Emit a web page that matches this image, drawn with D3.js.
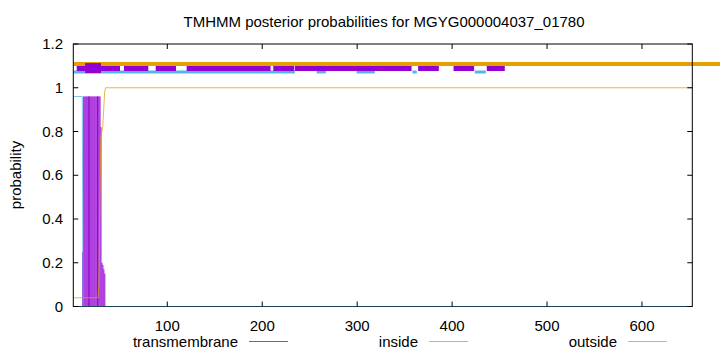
<html lang='eng'>
    <head>
        <title>TMHMM posterior probabilities</title>
        <script src="https://d3js.org/d3.v7.min.js" charset="utf-8"></script>
        <style>
          body { margin: 0; background: #fff; }
          text { font-family: "Liberation Sans", Arial, sans-serif; font-size: 15px; fill: #000; }
        </style>
    </head>
    <body>
        <script>
            // values (residue positions / probabilities)
            var seqLength = 653
            var xTicks = [100, 200, 300, 400, 500, 600]
            var yTicks = [0, 0.2, 0.4, 0.6, 0.8, 1, 1.2]

            // transmembrane posterior, one value per residue
            var tmResidues = [11, 12, 13, 14, 15, 16, 17, 18, 19, 20, 21, 22, 23, 24, 25, 26, 27, 28, 29, 30, 31, 32, 33, 34]
            var tmValues   = [0.25, 0.96, 0.96, 0.96, 0.96, 0.96, 0.96, 0.96, 0.96, 0.96, 0.96, 0.96, 0.96, 0.96, 0.96, 0.96, 0.96, 0.96, 0.96, 0.82, 0.2, 0.19, 0.17, 0.15]
            var tmDarkLines = [17.5, 26.7]

            // inside / outside curves as breakpoints
            var insidePos = [1, 10.5, 11.2, 653]
            var insideVal = [0.96, 0.96, 0, 0]
            var outsidePos = [1, 27, 28, 29, 30, 31, 32, 33, 34, 35, 653]
            var outsideVal = [0.04, 0.04, 0.1, 0.5, 0.78, 0.8, 0.82, 0.9, 0.98, 1.0, 1.0]

            // predicted topology band at the top
            var topOutside = [[1, 700]]
            var topTM = [[4.6, 50.2], [54.4, 80], [87.8, 109.2], [120.4, 208.8], [211.6, 233.7], [234.4, 357.3], [364.2, 386], [401.5, 423.2], [436.5, 455.5]]
            var topTMHelix = [[13.4, 30.2]]
            var topInside = [[1, 234.4], [257.3, 267.1], [299.4, 318.6], [358.3, 362.8], [423.9, 435.5]]

            var legendNames = ["transmembrane", "inside", "outside"]
            var legendColors = ["#a040d8", "#80c4ea", "#eeb040"]

            var width = 720
            var height = 352
            var plotLeft = 73.3, plotRight = 692.3, plotTop = 44, plotBottom = 306.5

            var svg = d3.select("body")
                        .append("svg")
                        .attr("width", width)
                        .attr("height", height)

            var x = d3.scaleLinear().domain([1, seqLength]).range([plotLeft, plotRight])
            var y = d3.scaleLinear().domain([0, 1.2]).range([plotBottom, plotTop])

            var line = d3.line().x(function(d){ return x(d[0]) }).y(function(d){ return y(d[1]) })

            // title + axis labels
            svg.append("text").attr("x", 384).attr("y", 27).attr("text-anchor", "middle")
               .text("TMHMM posterior probabilities for MGYG000004037_01780")
            svg.append("text").attr("transform", "translate(21,175) rotate(-90)")
               .attr("text-anchor", "middle").text("probability")

            // transmembrane impulses
            var dataG = svg.append("g")
            var step = x(2) - x(1)
            dataG.selectAll("rect.tm")
                .data(tmResidues)
                .enter()
                .append("rect")
                .attr("class", "tm")
                .attr("x", function(d){ return x(d) - step/2 - 0.3 })
                .attr("width", step + 0.6)
                .attr("y", function(d, i){ return y(tmValues[i]) })
                .attr("height", function(d, i){ return y(0) - y(tmValues[i]) })
                .attr("fill", "#b040e0")
            dataG.selectAll("line.tmdark")
                .data(tmDarkLines)
                .enter()
                .append("line")
                .attr("x1", function(d){ return x(d) }).attr("x2", function(d){ return x(d) })
                .attr("y1", y(0)).attr("y2", y(0.96))
                .attr("stroke", "#8000c8").attr("stroke-width", 1)

            // inside line
            dataG.append("path")
                .attr("d", line(insidePos.map(function(p, i){ return [p, insideVal[i]] })))
                .attr("fill", "none").attr("stroke", "#56b4e9").attr("stroke-width", 1).attr("opacity", 0.75)

            // outside line
            dataG.append("path")
                .attr("d", line(outsidePos.map(function(p, i){ return [p, outsideVal[i]] })))
                .attr("fill", "none").attr("stroke", "#e69f00").attr("stroke-width", 1).attr("opacity", 0.75)

            // top band
            var bandG = svg.append("g")
            bandG.selectAll("line.tout")
                .data(topOutside).enter().append("line")
                .attr("x1", function(d){ return x(d[0]) }).attr("x2", function(d){ return x(d[1]) })
                .attr("y1", y(1.109)).attr("y2", y(1.109))
                .attr("stroke", "#e69f00").attr("stroke-width", 4)
            bandG.selectAll("line.tin")
                .data(topInside).enter().append("line")
                .attr("x1", function(d){ return x(d[0]) }).attr("x2", function(d){ return x(d[1]) })
                .attr("y1", y(1.072)).attr("y2", y(1.072))
                .attr("stroke", "#56b4e9").attr("stroke-width", 3)
            bandG.selectAll("line.ttm")
                .data(topTM).enter().append("line")
                .attr("x1", function(d){ return x(d[0]) }).attr("x2", function(d){ return x(d[1]) })
                .attr("y1", y(1.088)).attr("y2", y(1.088))
                .attr("stroke", "#9400d3").attr("stroke-width", 5)
            bandG.selectAll("line.thx")
                .data(topTMHelix).enter().append("line")
                .attr("x1", function(d){ return x(d[0]) }).attr("x2", function(d){ return x(d[1]) })
                .attr("y1", y(1.09)).attr("y2", y(1.09))
                .attr("stroke", "#9400d3").attr("stroke-width", 10)

            // frame and ticks
            var frameG = svg.append("g")
            frameG.append("rect").attr("x", plotLeft).attr("y", plotTop).attr("width", plotRight - plotLeft).attr("height", plotBottom - plotTop)
                  .attr("fill", "none").attr("stroke", "#000").attr("stroke-width", 1)
            frameG.append("line").attr("x1", plotLeft).attr("x2", plotRight).attr("y1", plotBottom).attr("y2", plotBottom)
                  .attr("stroke", "#56b4e9").attr("stroke-width", 1).attr("opacity", 0.35)

            frameG.selectAll("line.xt").data(xTicks).enter().append("line")
                  .attr("x1", function(d){ return x(d) }).attr("x2", function(d){ return x(d) })
                  .attr("y1", plotBottom).attr("y2", plotBottom - 5).attr("stroke", "#000")
            frameG.selectAll("line.xt2").data(xTicks).enter().append("line")
                  .attr("x1", function(d){ return x(d) }).attr("x2", function(d){ return x(d) })
                  .attr("y1", plotTop).attr("y2", plotTop + 5).attr("stroke", "#000")
            frameG.selectAll("text.xl").data(xTicks).enter().append("text")
                  .attr("x", function(d){ return x(d) }).attr("y", 331).attr("text-anchor", "middle")
                  .text(function(d){ return d })

            frameG.selectAll("line.yt").data(yTicks).enter().append("line")
                  .attr("x1", plotLeft).attr("x2", plotLeft + 5)
                  .attr("y1", function(d){ return y(d) }).attr("y2", function(d){ return y(d) }).attr("stroke", "#000")
            frameG.selectAll("line.yt2").data(yTicks).enter().append("line")
                  .attr("x1", plotRight).attr("x2", plotRight - 5)
                  .attr("y1", function(d){ return y(d) }).attr("y2", function(d){ return y(d) }).attr("stroke", "#000")
            frameG.selectAll("text.yl").data(yTicks).enter().append("text")
                  .attr("x", 63).attr("y", function(d){ return y(d) + 5 }).attr("text-anchor", "end")
                  .text(function(d){ return d })

            // legend
            var legendTextEnd = [238, 418, 617]
            var legendG = svg.append("g")
            legendNames.forEach(function(name, i){
                legendG.append("text").attr("x", legendTextEnd[i]).attr("y", 347).attr("text-anchor", "end").text(name)
                legendG.append("line").attr("x1", legendTextEnd[i] + 11).attr("x2", legendTextEnd[i] + 50)
                       .attr("y1", 341.5).attr("y2", 341.5).attr("stroke", legendColors[i]).attr("stroke-width", 1)
            })
         </script>
    </body>
</html>
